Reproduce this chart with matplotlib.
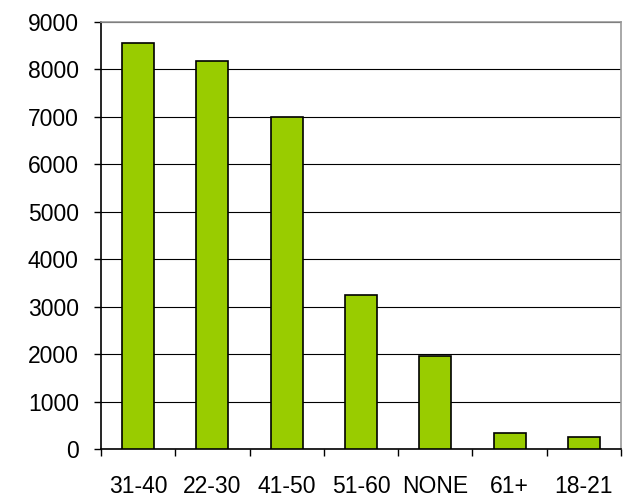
import matplotlib
matplotlib.use("Agg")
import matplotlib.pyplot as plt
import numpy as np

categories = ["31-40", "22-30", "41-50", "51-60", "NONE", "61+", "18-21"]
values = [8550, 8170, 7000, 3250, 1960, 330, 260]
yticks = [0, 1000, 2000, 3000, 4000, 5000, 6000, 7000, 8000, 9000]

plt.rcParams['font.family'] = ['Liberation Sans', 'DejaVu Sans']

fig = plt.figure(figsize=(6.29, 4.98), dpi=100)
ax = fig.add_axes([101/629, 1-449/498, 520/629, 427/498])

x = np.arange(len(categories))
ax.bar(x, values, width=0.43, color="#99CC00", edgecolor="black", linewidth=1.2, zorder=3)

ax.set_xlim(-0.5, len(categories) - 0.5)
ax.set_ylim(0, 9000)
ax.set_yticks(yticks)
ax.set_yticklabels([str(v) for v in yticks])
ax.yaxis.grid(True, color="black", linewidth=0.8, zorder=0)

ax.set_xticks(x)
ax.set_xticklabels(categories)
ax.set_xticks(np.arange(-0.5, len(categories)), minor=True)
ax.tick_params(axis='x', which='major', length=0, pad=19, labelsize=16.5)
ax.tick_params(axis='x', which='minor', length=5, width=1, color="black")
ax.tick_params(axis='y', length=5, width=1, pad=11, labelsize=16.5)

for s in ['top', 'right']:
    ax.spines[s].set_color("#999999")
    ax.spines[s].set_linewidth(1.2)
for s in ['left', 'bottom']:
    ax.spines[s].set_color("black")
    ax.spines[s].set_linewidth(1.2)

fig.savefig("out.png", dpi=100)
